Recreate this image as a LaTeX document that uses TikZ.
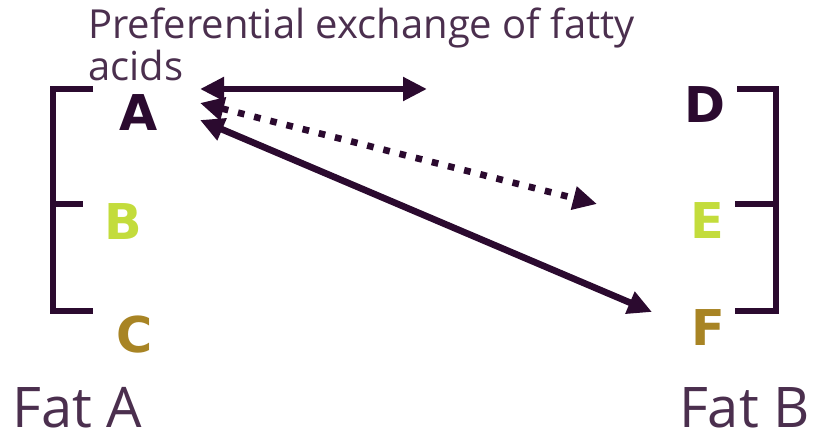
\documentclass[tikz,border=0pt]{standalone}
\usepackage{fontspec}
\setmainfont{Open Sans}
\newfontfamily\letterfont{DejaVu Sans}
\usepackage{xcolor}
\usepackage{tikz}
\usetikzlibrary{arrows.meta, positioning}

\definecolor{plum}{HTML}{2B0A2F}
\definecolor{lime}{HTML}{C3DC3C}
\definecolor{ochre}{HTML}{A88424}

\tikzset{
    fatty/.style={font=\letterfont\bfseries\fontsize{37}{40}\selectfont, inner sep=0pt},
    brace/.style={plum, line width=3.8pt},
    swap/.style={plum, line width=5pt, {Triangle[length=18pt,width=17pt]}-{Triangle[length=18pt,width=17pt]}}
}

\begin{document}
\begin{tikzpicture}[x=0.75pt, y=-0.75pt]
    \useasboundingbox (0,0) rectangle (814,434);

    % 1. Tiêu đề
    \node[anchor=base west, align=left, inner sep=0pt, plum!85,
          font=\fontsize{30}{31.5}\selectfont] (title) at (88,81)
        {Preferential exchange of fatty\\acids};

    % 2. Các axit béo
    \node[fatty, plum]  (A) at (139,113) {A};
    \node[fatty, lime]  (B) at (123,222) {B};
    \node[fatty, ochre] (C) at (135,335) {C};
    \node[fatty, plum]  (D) at (705,105) {D};
    \node[fatty, lime]  (E) at (707,221) {E};
    \node[fatty, ochre] (F) at (708,328) {F};

    % 3. Ngoặc hai bên
    \draw[brace] (93,89) -- (53,89) -- (53,311) -- (93,311);
    \draw[brace] (53,204) -- (83,204);
    \draw[brace] (737,89) -- (776,89) -- (776,311) -- (735,311);
    \draw[brace] (735,204) -- (776,204);

    % 4. Mũi tên trao đổi
    \coordinate (a1) at (200,89);
    \coordinate (a2) at (200,103);
    \coordinate (a3) at (200,120);
    \coordinate (d1) at (427,89);
    \coordinate (e1) at (597,204);
    \coordinate (f1) at (652,312);
    \draw[swap] (a1) -- (d1);
    \draw[swap, dash pattern=on 5pt off 7.5pt] (a2) -- (e1);
    \draw[swap] (a3) -- (f1);

    % 5. Tên chất béo
    \node[anchor=base west, inner sep=0pt, text depth=0pt, plum!85,
          font=\fontsize{42}{44}\selectfont] (fatA) at (12,427) {Fat A};
    \node[anchor=base east, inner sep=0pt, text depth=0pt, plum!85,
          font=\fontsize{42}{44}\selectfont] (fatB) at (810,427) {Fat B};
\end{tikzpicture}
\end{document}
